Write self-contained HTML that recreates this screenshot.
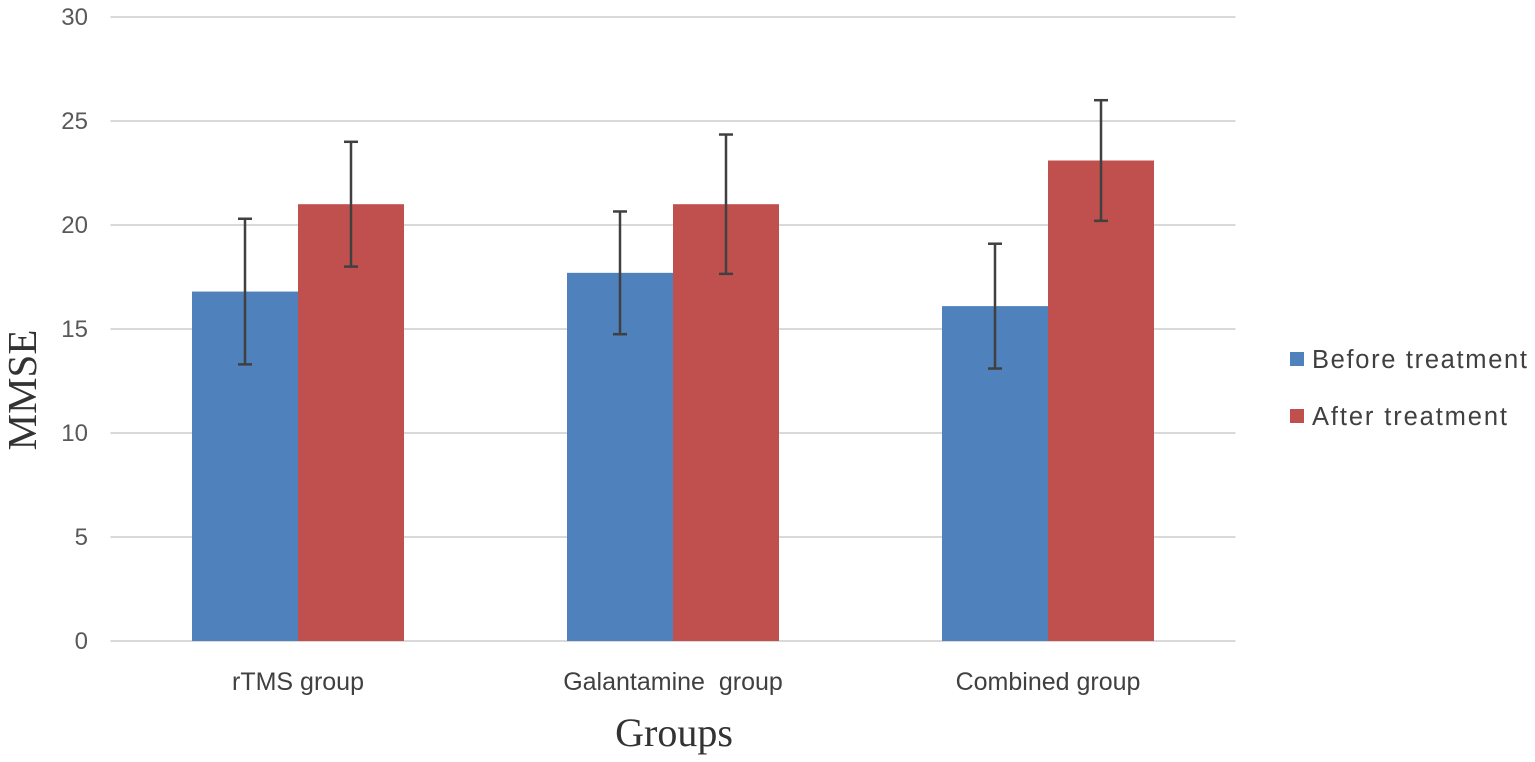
<!DOCTYPE html>
<html><head><meta charset="utf-8"><style>
html,body{margin:0;padding:0;background:#fff;}
svg{display:block;}
</style></head><body>
<svg id="chart" width="1535" height="762" font-family="Liberation Sans, sans-serif">
<g id="grid"></g>
<g id="yticks"></g>
<g id="bars"></g>
<g id="xlabels"></g>
<text x="36" y="390" transform="rotate(-90 36 390)" text-anchor="middle" font-family="Liberation Serif, serif" font-size="41" fill="#333">MMSE</text>
<text x="674" y="746" text-anchor="middle" font-family="Liberation Serif, serif" font-size="40" fill="#333">Groups</text>
<g>
<g><rect x="1290" y="352" width="14" height="14" fill="#4f81bd"/><text x="1312" y="368" font-size="25.5" textLength="215" fill="#404040">Before treatment</text></g>
<g><rect x="1290" y="409" width="14" height="14" fill="#c0504d"/><text x="1312" y="425" font-size="25.5" textLength="195" fill="#404040">After treatment</text></g>
</g>
</svg>
<script>
const categories = ["rTMS group", "Galantamine  group", "Combined group"];
const beforeValues = [16.8, 17.7, 16.1];
const beforeErrors = [3.5, 2.95, 3.0];
const afterValues = [21.0, 21.0, 23.1];
const afterErrors = [3.0, 3.35, 2.9];
const yTicks = [0, 5, 10, 15, 20, 25, 30];

const NS = "http://www.w3.org/2000/svg";
const plotL = 110.5, plotR = 1235.5, y0 = 641, y30 = 17;
const yScale = v => y0 - (v / 30) * (y0 - y30);
const catW = (plotR - plotL) / categories.length;
const xCenter = i => plotL + catW * (i + 0.5);
const barW = 106;
function mk(tag, attrs, parent) {
  const e = document.createElementNS(NS, tag);
  for (const k in attrs) e.setAttribute(k, attrs[k]);
  parent.appendChild(e);
  return e;
}
const grid = document.getElementById('grid'), yt = document.getElementById('yticks');
yTicks.forEach(t => {
  const y = yScale(t);
  const l = mk('line', {x1: plotL, x2: plotR, y1: y, y2: y, stroke: '#d9d9d9', 'stroke-width': 2}, grid);
  
  
  const tx = mk('text', {x: 88, y: y + 8, 'text-anchor': 'end', 'font-size': 24, fill: '#595959'}, yt);
  tx.textContent = t;
  
  
});
const bars = document.getElementById('bars'), xl = document.getElementById('xlabels');
function drawBar(i, v, err, offset, color, name) {
  const x = xCenter(i) + offset;
  const r = mk('rect', {x: x, y: yScale(v), width: barW, height: yScale(0) - yScale(v), fill: color}, bars);
  
  
  const cx = x + barW / 2, top = yScale(v + err), bot = yScale(v - err);
  const g = mk('g', {stroke: '#404040', 'stroke-width': 2.5}, bars);
  
  
  mk('line', {x1: cx, x2: cx, y1: top, y2: bot}, g);
  mk('line', {x1: cx - 7, x2: cx + 7, y1: top, y2: top}, g);
  mk('line', {x1: cx - 7, x2: cx + 7, y1: bot, y2: bot}, g);
}
categories.forEach((c, i) => {
  drawBar(i, beforeValues[i], beforeErrors[i], -barW, '#4f81bd', 'before');
  drawBar(i, afterValues[i], afterErrors[i], 0, '#c0504d', 'after');
  const t = mk('text', {x: xCenter(i), y: 690, 'text-anchor': 'middle', 'font-size': 25, fill: '#404040', style: 'white-space:pre'}, xl);
  t.textContent = c;
  
  
});
</script>
</body></html>
